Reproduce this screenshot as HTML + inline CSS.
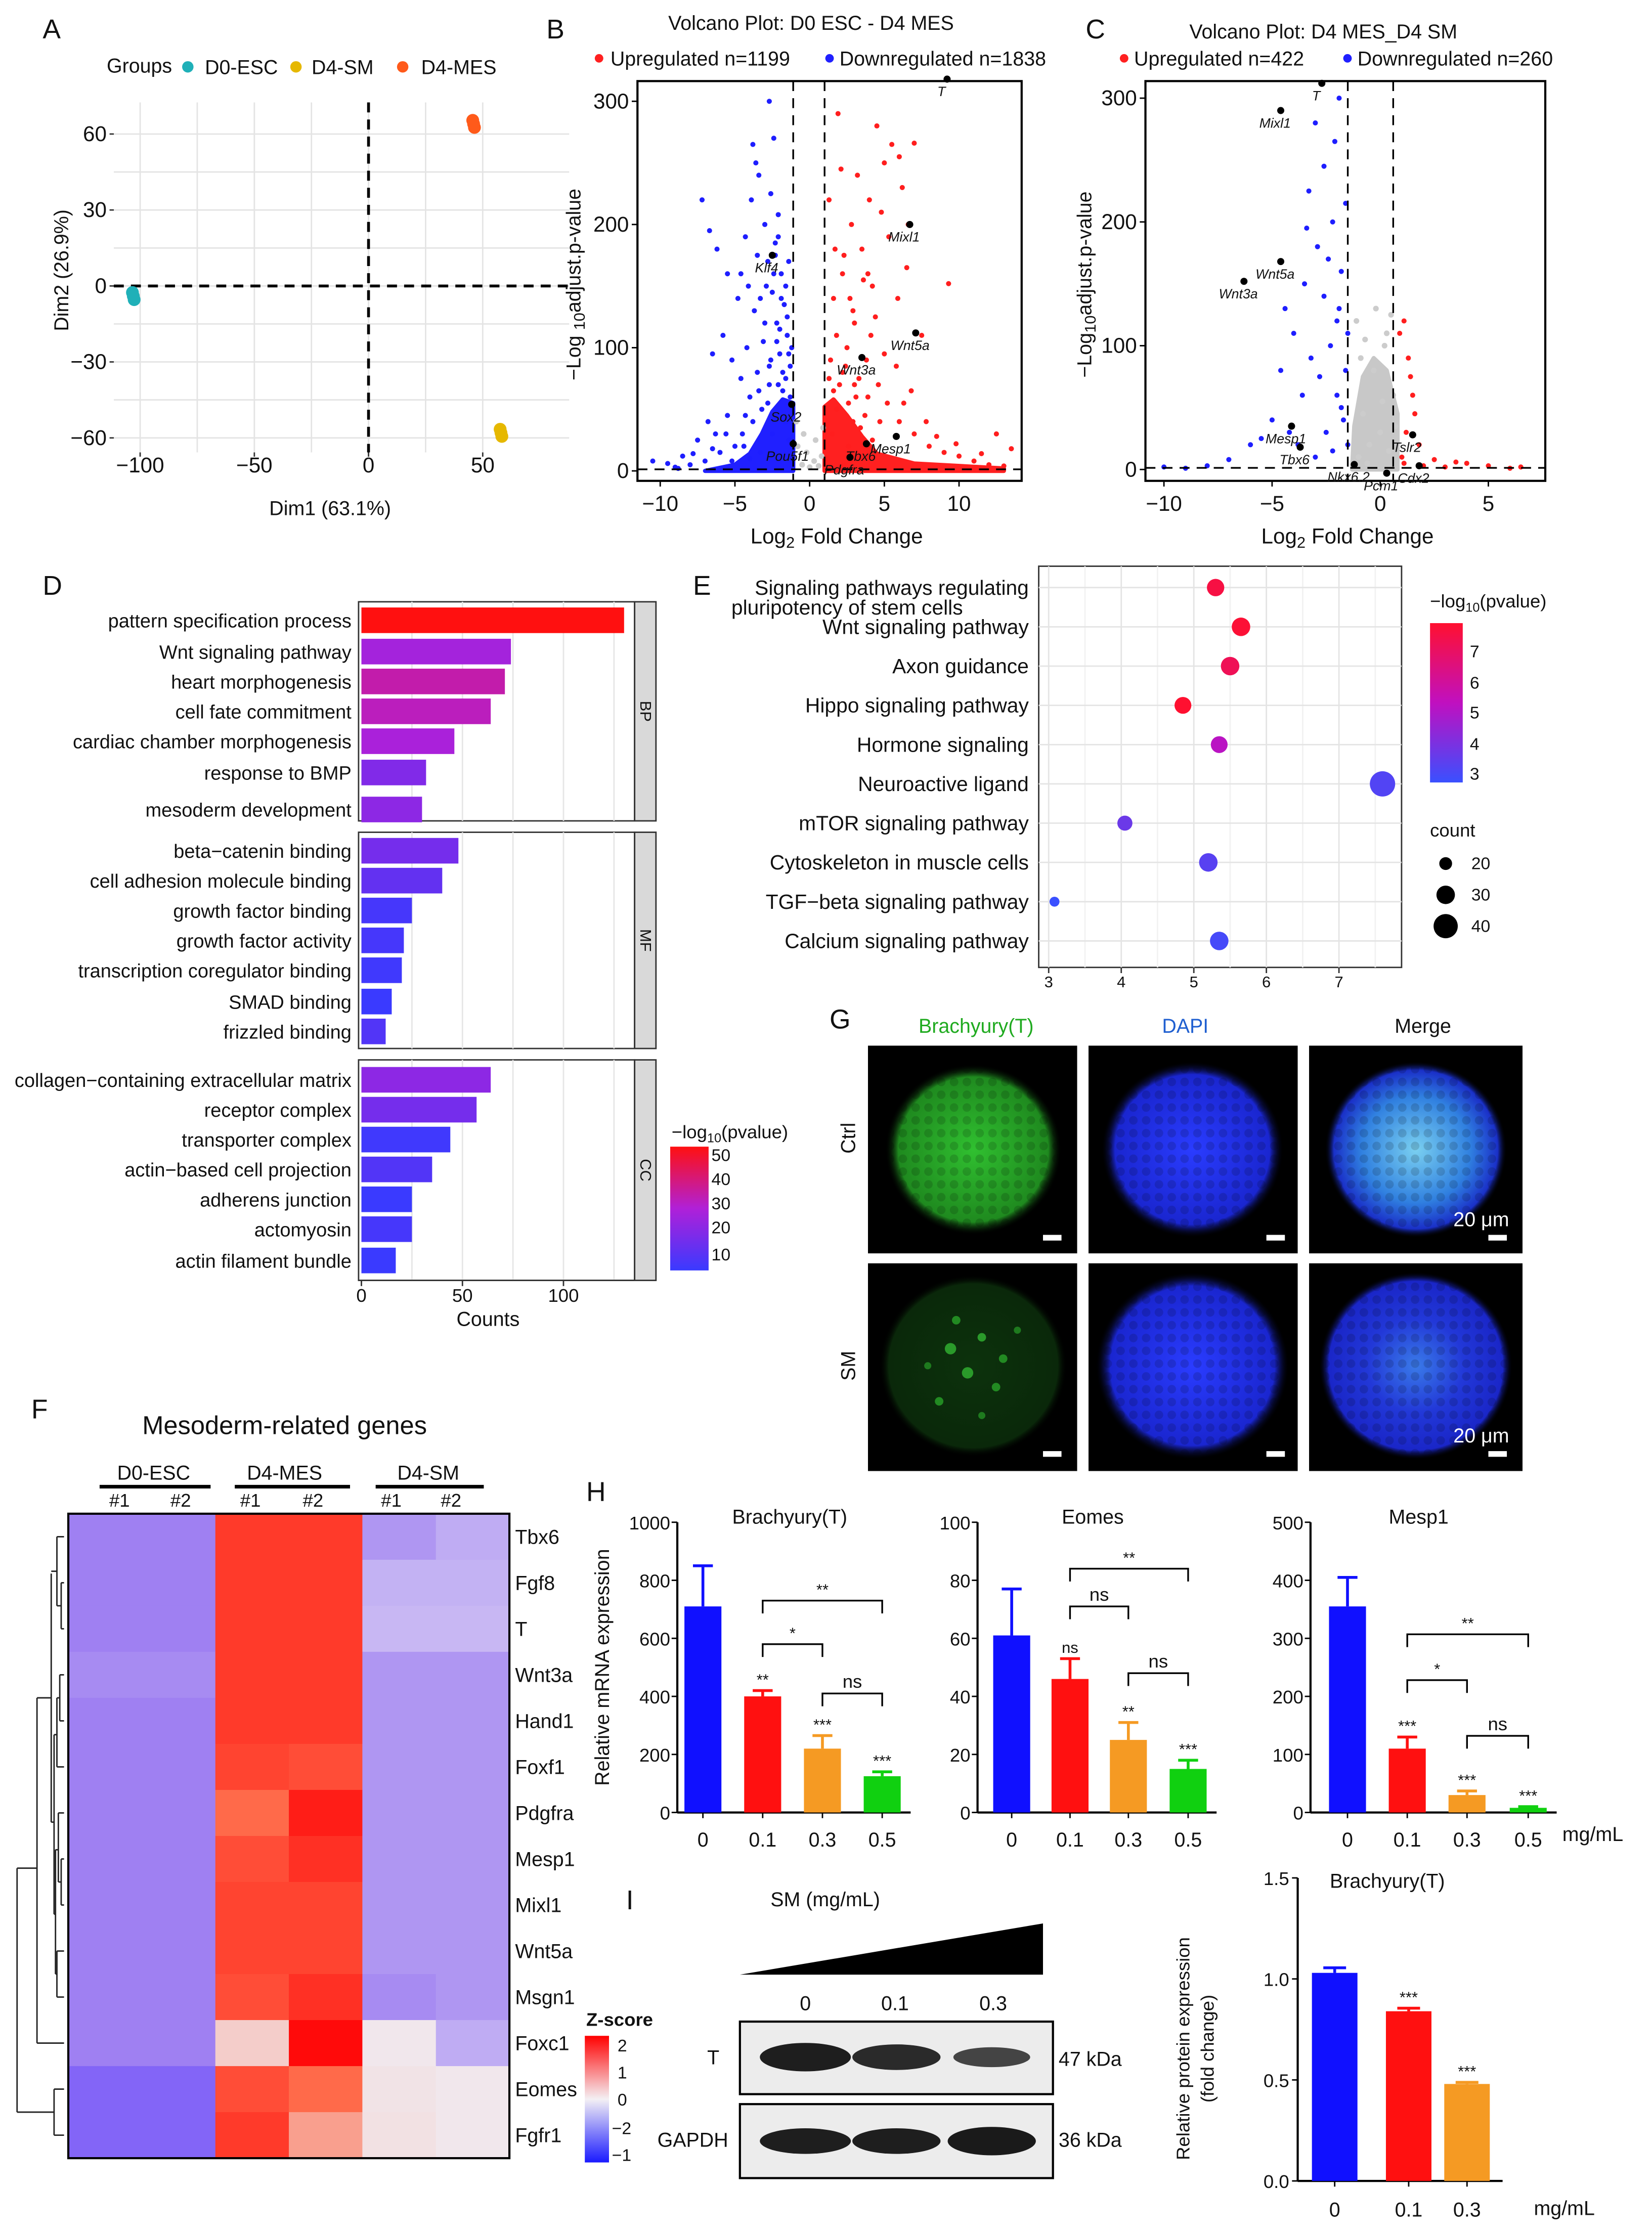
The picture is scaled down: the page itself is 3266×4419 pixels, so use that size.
<!DOCTYPE html>
<html><head><meta charset="utf-8"><title>Figure</title>
<style>
html,body{margin:0;padding:0;background:#fff;}
svg{display:block;font-family:"Liberation Sans",Arial,sans-serif;}
text{fill:#111;}
</style></head>
<body>
<svg id="fig" xmlns="http://www.w3.org/2000/svg" width="3266" height="4419" viewBox="0 0 1161 1571" preserveAspectRatio="none">
<defs>
<linearGradient id="gD" x1="0" y1="1" x2="0" y2="0"><stop offset="0" stop-color="#3a3aff"/><stop offset="0.5" stop-color="#b020d8"/><stop offset="1" stop-color="#ff1010"/></linearGradient>
<linearGradient id="gE" x1="0" y1="1" x2="0" y2="0"><stop offset="0" stop-color="#3a50ff"/><stop offset="0.5" stop-color="#c010c0"/><stop offset="1" stop-color="#ff1030"/></linearGradient>
<linearGradient id="gF" x1="0" y1="1" x2="0" y2="0"><stop offset="0" stop-color="#1a1aff"/><stop offset="0.5" stop-color="#f4f0f4"/><stop offset="1" stop-color="#ff0000"/></linearGradient>
<radialGradient id="rg1"><stop offset="0" stop-color="#30c030"/><stop offset="0.85" stop-color="#1f8a1f"/><stop offset="1" stop-color="#000" stop-opacity="0"/></radialGradient>
<radialGradient id="rg2"><stop offset="0" stop-color="#2a3cff"/><stop offset="0.85" stop-color="#1a26d0"/><stop offset="1" stop-color="#000" stop-opacity="0"/></radialGradient>
<radialGradient id="rg3"><stop offset="0" stop-color="#7ad0f0"/><stop offset="0.6" stop-color="#3080e0"/><stop offset="0.9" stop-color="#1a30c8"/><stop offset="1" stop-color="#000" stop-opacity="0"/></radialGradient>
<radialGradient id="rg4"><stop offset="0" stop-color="#0c320c"/><stop offset="0.9" stop-color="#0a280a"/><stop offset="1" stop-color="#000" stop-opacity="0"/></radialGradient>
<radialGradient id="rg5"><stop offset="0" stop-color="#3a7ae8"/><stop offset="0.5" stop-color="#2238d8"/><stop offset="0.9" stop-color="#1a26c8"/><stop offset="1" stop-color="#000" stop-opacity="0"/></radialGradient>
<pattern id="cells" width="9" height="9" patternUnits="userSpaceOnUse"><circle cx="4.5" cy="4.5" r="3" fill="#000" fill-opacity="0.15"/></pattern>
</defs>

<g>
<text x="30" y="27" font-size="19">A</text>
<text x="75" y="51" font-size="14">Groups</text>
<circle cx="132" cy="47" r="4" fill="#1fb0b8"/>
<text x="144" y="52" font-size="14">D0-ESC</text>
<circle cx="208" cy="47" r="4" fill="#e6b800"/>
<text x="219" y="52" font-size="14">D4-SM</text>
<circle cx="283" cy="47" r="4" fill="#ff5a1a"/>
<text x="296" y="52" font-size="14">D4-MES</text>
<g id="gA"></g>
<text x="232" y="362" font-size="14" text-anchor="middle">Dim1 (63.1%)</text>
<text transform="translate(48,190) rotate(-90)" font-size="14" text-anchor="middle">Dim2 (26.9%)</text>
</g>

<g>
<text x="384" y="27" font-size="19">B</text>
<text x="570" y="21" font-size="14" text-anchor="middle">Volcano Plot: D0 ESC - D4 MES</text>
<circle cx="421" cy="41" r="3" fill="#ff2020"/>
<text x="429" y="46" font-size="14">Upregulated n=1199</text>
<circle cx="583" cy="41" r="3" fill="#2020ff"/>
<text x="590" y="46" font-size="14">Downregulated n=1838</text>
<g id="gB"></g>
<text x="588" y="382" font-size="15" text-anchor="middle">Log<tspan font-size="11" dy="3">2</tspan><tspan dy="-3"> Fold Change</tspan></text>
<text transform="translate(408,200) rotate(-90)" font-size="14" text-anchor="middle">−Log <tspan font-size="11" dy="3">10</tspan><tspan dy="-3">adjust.p-value</tspan></text>
</g>

<g>
<text x="763" y="27" font-size="19">C</text>
<text x="930" y="27" font-size="14" text-anchor="middle">Volcano Plot: D4 MES_D4 SM</text>
<circle cx="790" cy="41" r="3" fill="#ff2020"/>
<text x="797" y="46" font-size="14">Upregulated n=422</text>
<circle cx="947" cy="41" r="3" fill="#2020ff"/>
<text x="954" y="46" font-size="14">Downregulated n=260</text>
<g id="gC"></g>
<text x="947" y="382" font-size="15" text-anchor="middle">Log<tspan font-size="11" dy="3">2</tspan><tspan dy="-3"> Fold Change</tspan></text>
<text transform="translate(767,200) rotate(-90)" font-size="14" text-anchor="middle">−Log<tspan font-size="11" dy="3">10</tspan><tspan dy="-3">adjust.p-value</tspan></text>
</g>

<g>
<text x="30" y="418" font-size="19">D</text>
<g id="gD2"></g>
<text x="343" y="932" font-size="14" text-anchor="middle">Counts</text>
<text x="472" y="800" font-size="13">−log<tspan font-size="9" dy="3">10</tspan><tspan dy="-3">(pvalue)</tspan></text>
<rect x="471" y="806" width="27" height="87" fill="url(#gD)"/>
<text x="500" y="816" font-size="12">50</text>
<text x="500" y="833" font-size="12">40</text>
<text x="500" y="850" font-size="12">30</text>
<text x="500" y="867" font-size="12">20</text>
<text x="500" y="886" font-size="12">10</text>
</g>

<g>
<text x="487" y="418" font-size="19">E</text>
<g id="gE2"></g>
<text x="1005" y="427" font-size="13">−log<tspan font-size="9" dy="3">10</tspan><tspan dy="-3">(pvalue)</tspan></text>
<rect x="1005" y="438" width="23" height="112" fill="url(#gE)"/>
<text x="1033" y="462" font-size="12">7</text>
<text x="1033" y="484" font-size="12">6</text>
<text x="1033" y="505" font-size="12">5</text>
<text x="1033" y="527" font-size="12">4</text>
<text x="1033" y="548" font-size="12">3</text>
<text x="1005" y="588" font-size="13">count</text>
<circle cx="1016" cy="607" r="4.5" fill="#000"/>
<circle cx="1016" cy="629" r="6.5" fill="#000"/>
<circle cx="1016" cy="651" r="8.5" fill="#000"/>
<text x="1034" y="611" font-size="12">20</text>
<text x="1034" y="633" font-size="12">30</text>
<text x="1034" y="655" font-size="12">40</text>
</g>

<g>
<text x="583" y="723" font-size="19">G</text>
<text x="686" y="726" font-size="14" style="fill:#1faa1f" text-anchor="middle">Brachyury(T)</text>
<text x="833" y="726" font-size="14" style="fill:#1f5fd0" text-anchor="middle">DAPI</text>
<text x="1000" y="726" font-size="14" text-anchor="middle">Merge</text>
<text transform="translate(601,800) rotate(-90)" font-size="14" text-anchor="middle">Ctrl</text>
<text transform="translate(601,960) rotate(-90)" font-size="14" text-anchor="middle">SM</text>
<rect x="610" y="735" width="147" height="146" fill="#000"/>
<rect x="765" y="735" width="147" height="146" fill="#000"/>
<rect x="920" y="735" width="150" height="146" fill="#000"/>
<rect x="610" y="888" width="147" height="146" fill="#000"/>
<rect x="765" y="888" width="147" height="146" fill="#000"/>
<rect x="920" y="888" width="150" height="146" fill="#000"/>
<ellipse cx="684" cy="808" rx="62" ry="60" fill="url(#rg1)"/><ellipse cx="684" cy="808" rx="58" ry="56" fill="url(#cells)"/>
<ellipse cx="838" cy="808" rx="64" ry="62" fill="url(#rg2)"/><ellipse cx="838" cy="808" rx="60" ry="58" fill="url(#cells)"/>
<ellipse cx="995" cy="808" rx="64" ry="62" fill="url(#rg3)"/><ellipse cx="995" cy="808" rx="60" ry="58" fill="url(#cells)"/>
<ellipse cx="684" cy="960" rx="66" ry="64" fill="url(#rg4)"/>
<circle cx="668" cy="948" r="4" fill="#2a9a2a"/><circle cx="690" cy="940" r="3" fill="#2a9a2a"/><circle cx="680" cy="965" r="4" fill="#2a9a2a"/><circle cx="700" cy="975" r="3" fill="#228a22"/><circle cx="660" cy="985" r="3" fill="#228a22"/><circle cx="705" cy="955" r="3" fill="#228a22"/><circle cx="672" cy="928" r="3" fill="#228a22"/><circle cx="652" cy="960" r="2.5" fill="#1e7a1e"/><circle cx="715" cy="935" r="2.5" fill="#1e7a1e"/><circle cx="690" cy="995" r="2.5" fill="#1e7a1e"/>
<ellipse cx="838" cy="960" rx="68" ry="66" fill="url(#rg2)"/><ellipse cx="838" cy="960" rx="64" ry="62" fill="url(#cells)"/>
<ellipse cx="995" cy="960" rx="68" ry="66" fill="url(#rg5)"/><ellipse cx="995" cy="960" rx="64" ry="62" fill="url(#cells)"/>
<rect x="733" y="868" width="13" height="4" fill="#fff"/><rect x="890" y="868" width="13" height="4" fill="#fff"/><rect x="1046" y="868" width="13" height="4" fill="#fff"/>
<rect x="733" y="1020" width="13" height="4" fill="#fff"/><rect x="890" y="1020" width="13" height="4" fill="#fff"/><rect x="1046" y="1020" width="13" height="4" fill="#fff"/>
<text x="1041" y="862" font-size="14" style="fill:#fff" text-anchor="middle">20 μm</text>
<text x="1041" y="1014" font-size="14" style="fill:#fff" text-anchor="middle">20 μm</text>
</g>

<g>
<text x="22" y="997" font-size="19">F</text>
<text x="200" y="1008" font-size="18" text-anchor="middle">Mesoderm-related genes</text>
<text x="108" y="1040" font-size="14" text-anchor="middle">D0-ESC</text>
<line x1="70" y1="1045" x2="148" y2="1045" stroke="#000" stroke-width="2.5"/>
<text x="200" y="1040" font-size="14" text-anchor="middle">D4-MES</text>
<line x1="165" y1="1045" x2="246" y2="1045" stroke="#000" stroke-width="2.5"/>
<text x="301" y="1040" font-size="14" text-anchor="middle">D4-SM</text>
<line x1="264" y1="1045" x2="340" y2="1045" stroke="#000" stroke-width="2.5"/>
<g id="gF2"></g>
<text x="412" y="1424" font-size="13" font-weight="bold">Z-score</text>
<rect x="411" y="1431" width="17" height="89" fill="url(#gF)"/>
<text x="434" y="1442" font-size="12">2</text>
<text x="434" y="1461" font-size="12">1</text>
<text x="434" y="1480" font-size="12">0</text>
<text x="430" y="1500" font-size="12">−2</text>
<text x="430" y="1519" font-size="12">−1</text>
</g>

<g>
<text x="412" y="1055" font-size="19">H</text>
<text transform="translate(428,1172) rotate(-90)" font-size="14" text-anchor="middle">Relative mRNA expression</text>
<g id="gH"></g>
<text x="1098" y="1294" font-size="14">mg/mL</text>
</g>

<g>
<text x="440" y="1342" font-size="19">I</text>
<text x="580" y="1340" font-size="14" text-anchor="middle">SM (mg/mL)</text>
<polygon points="520,1388 733,1388 733,1352" fill="#000"/>
<text x="566" y="1413" font-size="14" text-anchor="middle">0</text>
<text x="629" y="1413" font-size="14" text-anchor="middle">0.1</text>
<text x="698" y="1413" font-size="14" text-anchor="middle">0.3</text>
<rect x="520" y="1421" width="220" height="51" fill="#ececec" stroke="#000" stroke-width="1.5"/>
<rect x="520" y="1479" width="220" height="52" fill="#ececec" stroke="#000" stroke-width="1.5"/>
<ellipse cx="566" cy="1446" rx="32" ry="10" fill="#1e1e1e"/><ellipse cx="630" cy="1446" rx="31" ry="9" fill="#2a2a2a"/><ellipse cx="697" cy="1446" rx="27" ry="7" fill="#444"/>
<ellipse cx="566" cy="1505" rx="32" ry="9" fill="#1e1e1e"/><ellipse cx="630" cy="1505" rx="31" ry="9" fill="#1e1e1e"/><ellipse cx="697" cy="1505" rx="31" ry="10" fill="#1a1a1a"/>
<text x="497" y="1451" font-size="14">T</text>
<text x="462" y="1509" font-size="14">GAPDH</text>
<text x="744" y="1452" font-size="14">47 kDa</text>
<text x="744" y="1509" font-size="14">36 kDa</text>
<text x="975" y="1327" font-size="14" text-anchor="middle">Brachyury(T)</text>
<text transform="translate(836,1440) rotate(-90)" font-size="13" text-anchor="middle">Relative protein expression</text>
<text transform="translate(853,1440) rotate(-90)" font-size="13" text-anchor="middle">(fold change)</text>
<g id="gI"></g>
<text x="1078" y="1557" font-size="14">mg/mL</text>
</g>
</svg>

<script>
var pcaGroups = ["D0-ESC","D4-SM","D4-MES"];
var pcaDim1 = [-103, 58, 46];
var pcaDim2 = [-4, -58, 64];
var pcaColors = ["#1fb0b8","#e6b800","#ff5a1a"];
var pcaXTicks = [-100,-50,0,50];
var pcaYTicks = [60,30,0,-30,-60];

var volBDown = [[-1.2,10],[-1.4,25],[-1.6,40],[-1.3,60],[-1.8,80],[-2,95],[-1.5,110],[-2.2,120],[-1.7,135],[-2.5,145],[-1.9,160],[-2.8,170],[-2.3,185],[-3,200],[-1.6,150],[-2.6,225],[-3.4,240],[-2.1,208],[-3.8,265],[-2.4,270],[-2.7,300],[-4.5,30],[-5,20],[-5.5,45],[-6,15],[-7,8],[-8,5],[-9,3],[-10.5,8],[-4,60],[-3.5,80],[-4.2,100],[-3,120],[-4.8,140],[-5.5,160],[-6.2,180],[-6.7,195],[-3.2,50],[-2.7,70],[-4.6,75],[-5.2,90],[-3.7,130],[-2.9,150],[-6.5,95],[-5.8,110],[-7.5,25],[-8.5,12],[-6.8,40],[-3.3,15],[-2.5,30],[-4,10],[-1.4,170],[-1.2,100],[-2,115],[-4.3,190],[-3.9,220],[-1.5,125],[-7.2,220],[-3.6,250],[-2.2,105],[-1.8,65],[-2.6,90],[-3.1,105],[-1.9,140],[-2.4,160],[-3.5,175],[-4.1,150],[-1.3,85],[-2.8,55],[-3.8,40],[-4.4,20],[-5.2,8],[-6.3,30],[-9.5,6],[-8.8,2],[-7.8,14],[-2.3,175],[-2.1,190],[-3.3,140],[-4.6,160],[-1.6,75],[-2.1,70],[-1.4,95],[-2.7,85],[-3.4,65],[-4.3,45],[-5.6,30],[-6.5,18]];
var volBUp = [[1.2,10],[1.5,30],[1.8,50],[2,70],[1.4,90],[2.5,100],[3,120],[1.6,140],[2.2,160],[3.5,180],[2.8,200],[4,220],[3.2,240],[1.9,290],[4.5,280],[5.5,265],[6,255],[5,250],[6.2,230],[4.8,210],[5.3,190],[6.5,165],[4.2,150],[3.8,90],[4.6,70],[5.2,55],[6,40],[7,30],[8,20],[9,15],[10,12],[11,8],[12,5],[13,4],[2.6,20],[3.4,35],[4.2,25],[2.3,5],[3.1,60],[3.7,45],[5.8,85],[6.8,65],[7.5,110],[9.3,152],[6.6,200],[5.9,140],[2.9,130],[1.7,180],[1.3,220],[2.1,245],[3.6,155],[7,266],[2.4,85],[3.3,75],[1.8,110],[2.7,140],[4.4,125],[5,95],[6.3,55],[7.8,40],[8.5,28],[9.8,22],[11.5,14],[12.5,30],[13.5,18],[3.9,160],[2.3,175],[4.1,110],[1.6,65],[2.9,40],[2.2,80],[3.0,70],[3.9,60],[4.7,40],[1.3,75],[2.6,55]];
var volBNs = [[-0.5,5],[0.3,8],[-0.2,15],[0.6,4],[-0.8,20],[0.8,12],[0,3],[-0.4,30],[0.4,25],[-0.9,40],[0.9,35]];
var volBGenes = ["Klf4","Mixl1","Wnt5a","Wnt3a","Sox2","Pou5f1","Tbx6","Mesp1","Pdgfra","T"];
var volBGx = [-2.5,6.7,7.1,3.5,-1.2,-1.1,3.8,5.8,2.7,9.2];
var volBGy = [175,200,112,92,54,22,22,28,11,318];
var volBDownHull = [[-7,0],[-5,5],[-4,14],[-3.2,30],[-2.5,48],[-1.8,58],[-1.1,55],[-1.1,0]];
var volBUpHull = [[1,0],[1,52],[1.6,58],[2.5,45],[3.5,28],[4.5,14],[7,6],[13,2],[13,0]];

var volCDown = [[-1.5,20],[-1.7,40],[-2,60],[-1.6,80],[-2.3,100],[-2,120],[-2.6,140],[-1.8,160],[-2.9,180],[-2.2,200],[-3.3,225],[-2.6,245],[-3,280],[-1.9,300],[-3.6,60],[-3.2,90],[-4,110],[-3.5,150],[-4.4,130],[-4.6,80],[-5,40],[-5.5,25],[-6,20],[-7,8],[-8,3],[-9,1],[-10,2],[-4.2,30],[-3.8,20],[-3,10],[-2.5,30],[-2.8,75],[-1.6,215],[-2.1,265],[-3.4,195],[-1.9,130],[-2.4,170],[-1.5,110],[-1.8,50],[-2.2,15]];
var volCUp = [[1,10],[1.2,30],[1.5,60],[1.3,90],[0.9,110],[1.1,5],[2,3],[3,2],[4,5],[5,3],[6,1],[6.5,2],[1.8,20],[2.5,8],[1.6,45],[1.1,120],[3.5,6],[1.4,75]];
var volCNs = [[-1,10],[-0.5,20],[0,30],[0.4,15],[-0.8,45],[0.6,60],[-0.3,80],[0.2,100],[-1.1,120],[0.5,125],[-0.6,5],[0.1,55],[-0.2,130],[0.7,35],[-0.9,90],[0.3,110],[-0.7,105]];
var volCGenes = ["Mixl1","T","Wnt5a","Wnt3a","Mesp1","Tbx6","Nkx6.2","Tslr2","Cdx2","Pcm1"];
var volCGx = [-4.6,-2.7,-4.6,-6.3,-4.1,-3.7,-1.2,1.5,1.8,0.3];
var volCGy = [290,312,168,152,35,18,4,28,3,-3];
var volCNsHull = [[-1.3,0],[-1.2,35],[-0.8,75],[-0.3,90],[0.3,80],[0.8,45],[0.8,0]];

var goTerms = ["pattern specification process","Wnt signaling pathway","heart morphogenesis","cell fate commitment","cardiac chamber morphogenesis","response to BMP","mesoderm development","beta\u2212catenin binding","cell adhesion molecule binding","growth factor binding","growth factor activity","transcription coregulator binding","SMAD binding","frizzled binding","collagen\u2212containing extracellular matrix","receptor complex","transporter complex","actin\u2212based cell projection","adherens junction","actomyosin","actin filament bundle"];
var goCounts = [130,74,71,64,46,32,30,48,40,25,21,20,15,12,64,57,44,35,25,25,17];
var goPval = [50,26,33,31,27,20,22,18,15,10,10,9,8,12,22,18,9,12,8,10,8];
var goCategory = ["BP","BP","BP","BP","BP","BP","BP","MF","MF","MF","MF","MF","MF","MF","CC","CC","CC","CC","CC","CC","CC"];
var goXTicks = [0,50,100];

var keggTerms = ["Signaling pathways regulating","Wnt signaling pathway","Axon guidance","Hippo signaling pathway","Hormone signaling","Neuroactive ligand","mTOR signaling pathway","Cytoskeleton in muscle cells","TGF\u2212beta signaling pathway","Calcium signaling pathway"];
var keggRich = [5.3,5.65,5.5,4.85,5.35,7.6,4.05,5.2,3.08,5.35];
var keggCount = [28,30,30,27,27,42,24,30,15,30];
var keggP = [7.2,7.4,6.9,7.5,5.1,3.4,3.8,3.5,3.0,3.2];
var keggXTicks = [3,4,5,6,7];

var hmGenes = ["Tbx6","Fgf8","T","Wnt3a","Hand1","Foxf1","Pdgfra","Mesp1","Mixl1","Wnt5a","Msgn1","Foxc1","Eomes","Fgfr1"];
var hmZ = [
[-1,-1,1.5,1.5,-0.8,-0.6],
[-1,-1,1.5,1.5,-0.55,-0.55],
[-1,-1,1.5,1.5,-0.5,-0.5],
[-0.9,-0.9,1.5,1.5,-0.8,-0.8],
[-1,-1,1.5,1.5,-0.8,-0.8],
[-1,-1,1.4,1.3,-0.8,-0.8],
[-1,-1,1.0,1.8,-0.8,-0.8],
[-1,-1,1.3,1.6,-0.8,-0.8],
[-1,-1,1.4,1.4,-0.8,-0.8],
[-1,-1,1.4,1.4,-0.8,-0.8],
[-1,-1,1.3,1.6,-0.9,-0.8],
[-1,-1,0.25,2.1,0.05,-0.6],
[-1.4,-1.4,1.3,1.0,0.08,0.05],
[-1.4,-1.4,1.5,0.6,0.1,0.05]];
var hmCols = ["#1","#2","#1","#2","#1","#2"];

var qDoses = ["0","0.1","0.3","0.5"];
var qTitles = ["Brachyury(T)","Eomes","Mesp1"];
var qBrachyury = [710,400,220,125];
var qBrachyuryErr = [140,20,45,15];
var qEomes = [61,46,25,15];
var qEomesErr = [16,7,6,3];
var qMesp1 = [355,110,30,8];
var qMesp1Err = [50,20,7,2];
var qBrachyuryTicks = [0,200,400,600,800,1000];
var qEomesTicks = [0,20,40,60,80,100];
var qMesp1Ticks = [0,100,200,300,400,500];
var qBrachyuryStars = ["","**","***","***"];
var qEomesStars = ["","ns","**","***"];
var qMesp1Stars = ["","***","***","***"];
var qBrachyuryBrackets = [[1,3,"**",730],[1,2,"*",580],[2,3,"ns",410]];
var qEomesBrackets = [[1,3,"**",84],[1,2,"ns",71],[2,3,"ns",48]];
var qMesp1Brackets = [[1,3,"**",307],[1,2,"*",228],[2,3,"ns",132]];
var barColors = ["#1010ff","#ff1010","#f59a23","#10d010"];

var pDoses = ["0","0.1","0.3"];
var pValues = [1.03,0.84,0.48];
var pErr = [0.025,0.015,0.008];
var pStars = ["","***","***"];
var pTicks = ["0.0","0.5","1.0","1.5"];

var NS = "http://www.w3.org/2000/svg";
function mk(tag, attrs, parent){
  var e = document.createElementNS(NS, tag);
  for (var k in attrs) e.setAttribute(k, attrs[k]);
  parent.appendChild(e);
  return e;
}
function txt(s, attrs, parent){ var t = mk("text", attrs, parent); t.textContent = s; return t; }
function lerpC(a,b,t){
  var pa=[parseInt(a.substr(1,2),16),parseInt(a.substr(3,2),16),parseInt(a.substr(5,2),16)];
  var pb=[parseInt(b.substr(1,2),16),parseInt(b.substr(3,2),16),parseInt(b.substr(5,2),16)];
  return "rgb("+pa.map(function(v,i){return Math.round(v+(pb[i]-v)*t);}).join(",")+")";
}
function scale3(v, lo, mid, hi, c0, c1, c2){
  if (v<=mid){ var t=Math.max(0,(v-lo)/(mid-lo)); return lerpC(c0,c1,t); }
  var t2=Math.min(1,(v-mid)/(hi-mid)); return lerpC(c1,c2,t2);
}

(function(){
  var g = document.getElementById("gA");
  function xA(v){ return 259 + v*1.605; }
  function yA(v){ return 201 - v*1.78; }
  [-100,-75,-50,-25,0,25,50].forEach(function(v){
    var l = mk("line",{x1:xA(v),x2:xA(v),y1:72,y2:318,stroke:"#e4e4e4","stroke-width":1},g);
    
    
  });
  [60,45,30,15,0,-15,-30,-45,-60].forEach(function(v){
    var l = mk("line",{x1:80,x2:400,y1:yA(v),y2:yA(v),stroke:"#e4e4e4","stroke-width":1},g);
    
    
  });
  pcaXTicks.forEach(function(v){
    var t = txt(v<0?"\u2212"+(-v):String(v),{x:xA(v),y:332,"font-size":15,"text-anchor":"middle"},g);
    
    
    mk("line",{x1:xA(v),x2:xA(v),y1:318,y2:321,stroke:"#333"},g);
  });
  pcaYTicks.forEach(function(v){
    var t = txt(v<0?"\u2212"+(-v):String(v),{x:75,y:yA(v)+5,"font-size":15,"text-anchor":"end"},g);
    
    
    mk("line",{x1:77,x2:80,y1:yA(v),y2:yA(v),stroke:"#333"},g);
  });
  var d1 = mk("line",{x1:xA(0),x2:xA(0),y1:72,y2:318,stroke:"#000","stroke-width":2,"stroke-dasharray":"7,5"},g);
  
  
  var d2 = mk("line",{x1:80,x2:400,y1:yA(0),y2:yA(0),stroke:"#000","stroke-width":2,"stroke-dasharray":"7,5"},g);
  
  
  pcaDim1.forEach(function(v,i){
    [-1,0,1].forEach(function(o){
      var c = mk("circle",{cx:xA(v)+o*0.6,cy:yA(pcaDim2[i])+o*2.5,r:4.5,fill:pcaColors[i]},g);
      
      
    });
  });
})();

function volcano(g, x0, x1, y0, y1, xz, xs, yz, ys, xticks, yticks, dashes, down, up, ns, hulls, genes, gx, gy, tag){
  function X(v){ return xz + v*xs; }
  function Y(v){ return yz - v*ys; }
  var frame = mk("rect",{x:x0,y:y0,width:x1-x0,height:y1-y0,fill:"#fff",stroke:"#000","stroke-width":1.5},g);
  
  
  var cl = "clip"+tag;
  var cp = mk("clipPath",{id:cl},g); mk("rect",{x:x0,y:y0,width:x1-x0,height:y1-y0},cp);
  var p = mk("g",{"clip-path":"url(#"+cl+")"},g);
  hulls.forEach(function(h){
    var poly = mk("polygon",{points:h[0].map(function(q){return X(q[0])+","+Y(q[1]);}).join(" "),fill:h[1],"stroke":h[1],"stroke-width":3,"stroke-linejoin":"round"},p);
    
    
  });
  ns.forEach(function(q){
    var c = mk("circle",{cx:X(q[0]),cy:Y(q[1]),r:2,fill:"#cccccc"},p);
    
    
  });
  down.forEach(function(q){
    var c = mk("circle",{cx:X(q[0]),cy:Y(q[1]),r:1.8,fill:"#1e1eff"},p);
    
    
  });
  up.forEach(function(q){
    var c = mk("circle",{cx:X(q[0]),cy:Y(q[1]),r:1.8,fill:"#ff1e1e"},p);
    
    
  });
  dashes.forEach(function(v){
    var l = mk("line",{x1:X(v),x2:X(v),y1:y0,y2:y1,stroke:"#000","stroke-width":1.2,"stroke-dasharray":"7,5"},g);
    
    
  });
  var h = mk("line",{x1:x0,x2:x1,y1:Y(1.3),y2:Y(1.3),stroke:"#000","stroke-width":1.2,"stroke-dasharray":"7,5"},g);
  
  
  genes.forEach(function(n,i){
    var c = mk("circle",{cx:X(gx[i]),cy:Y(gy[i]),r:2.5,fill:"#000"},g);
    
    
    var t = txt(n,{x:X(gx[i])-4,y:Y(gy[i])+12,"font-size":9.5,"font-style":"italic","text-anchor":"middle"},g);
    
    
  });
  xticks.forEach(function(v){
    mk("line",{x1:X(v),x2:X(v),y1:y1,y2:y1+4,stroke:"#000"},g);
    var t = txt(v<0?"\u2212"+(-v):String(v),{x:X(v),y:y1+21,"font-size":15,"text-anchor":"middle"},g);
    
    
  });
  yticks.forEach(function(v){
    mk("line",{x1:x0-4,x2:x0,y1:Y(v),y2:Y(v),stroke:"#000"},g);
    var t = txt(String(v),{x:x0-6,y:Y(v)+5,"font-size":15,"text-anchor":"end"},g);
    
    
  });
}
volcano(document.getElementById("gB"),448,718,57,338,569,10.5,331,0.866,[-10,-5,0,5,10],[0,100,200,300],[-1.1,1.0],volBDown,volBUp,volBNs,[[volBDownHull,"#2020ff"],[volBUpHull,"#ff2020"]],volBGenes,volBGx,volBGy,"b");
volcano(document.getElementById("gC"),805,1086,57,338,970,15.2,330,0.87,[-10,-5,0,5],[0,100,200,300],[-1.5,0.6],volCDown,volCUp,volCNs,[[volCNsHull,"#c8c8c8"]],volCGenes,volCGx,volCGy,"c");

(function(){
  var g = document.getElementById("gD2");
  function X(v){ return 254 + v*1.42; }
  var rowsY = [436,458,479,500,521,543,569,598,619,640,661,682,704,725,759,780,801,822,843,864,886];
  var facets = [["BP",423,577],["MF",585,737],["CC",745,900]];
  facets.forEach(function(f){
    var r = mk("rect",{x:252,y:f[1],width:194,height:f[2]-f[1],fill:"#fff",stroke:"#333","stroke-width":1},g);
    
    
    [25,50,75,100,125].forEach(function(v){ mk("line",{x1:X(v),x2:X(v),y1:f[1],y2:f[2],stroke:"#e6e6e6"},g); });
    var s = mk("rect",{x:446,y:f[1],width:15,height:f[2]-f[1],fill:"#d9d9d9",stroke:"#333","stroke-width":1},g);
    
    
    var t = txt(f[0],{transform:"translate(450,"+((f[1]+f[2])/2)+") rotate(90)","font-size":11,"text-anchor":"middle"},g);
    
    
  });
  goTerms.forEach(function(n,i){
    var y = rowsY[i];
    var col = scale3(goPval[i],8,28,50,"#3a3aff","#b020d8","#ff1010");
    var b = mk("rect",{x:X(0),y:y-9,width:X(goCounts[i])-X(0),height:18,fill:col},g);
    
    
    var t = txt(n,{x:247,y:y+5,"font-size":13.5,"text-anchor":"end"},g);
    
    
  });
  mk("line",{x1:252,x2:446,y1:900,y2:900,stroke:"#333"},g);
  goXTicks.forEach(function(v){
    mk("line",{x1:X(v),x2:X(v),y1:900,y2:904,stroke:"#333"},g);
    var t = txt(String(v),{x:X(v),y:915,"font-size":13,"text-anchor":"middle"},g);
    
    
  });
})();

(function(){
  var g = document.getElementById("gE2");
  function X(v){ return 737 + (v-3)*51; }
  function Y(i){ return 413 + i*27.6; }
  var fr = mk("rect",{x:730,y:398,width:255,height:282,fill:"#fff",stroke:"#333","stroke-width":1},g);
  
  
  [3,3.5,4,4.5,5,5.5,6,6.5,7,7.5].forEach(function(v){ mk("line",{x1:X(v),x2:X(v),y1:398,y2:680,stroke:(v%1?"#f2f2f2":"#e4e4e4")},g); });
  keggTerms.forEach(function(n,i){ mk("line",{x1:730,x2:985,y1:Y(i),y2:Y(i),stroke:"#e4e4e4"},g); });
  keggTerms.forEach(function(n,i){
    var t = txt(n,{x:723,y:Y(i)+5,"font-size":14.5,"text-anchor":"end"},g);
    
    
    var c = mk("circle",{cx:X(keggRich[i]),cy:Y(i),r:0.5+0.2*keggCount[i],fill:scale3(keggP[i],3,5.2,7.5,"#3a50ff","#c010c0","#ff1030")},g);
    
    
  });
  var t2 = txt("pluripotency of stem cells",{x:514,y:432,"font-size":14.5},g);
  
  
  keggXTicks.forEach(function(v){
    mk("line",{x1:X(v),x2:X(v),y1:680,y2:684,stroke:"#333"},g);
    var t = txt(String(v),{x:X(v),y:694,"font-size":11,"text-anchor":"middle"},g);
    
    
  });
})();

(function(){
  var g = document.getElementById("gF2");
  var x0=48, y0=1064, cw=310/6, rh=453/14;
  var repX = [84,127,176,220,275,317];
  function zc(v){
    if (v<=-1) return lerpC("#5a3cff","#9f80f2",v+2>0?(v+2):0);
    if (v<=0) return lerpC("#9f80f2","#f0eef4",v+1);
    if (v<=1) return lerpC("#f0eef4","#ff6a4a",v);
    return lerpC("#ff6a4a","#ff0a0a",Math.min(1,v-1));
  }
  hmGenes.forEach(function(n,i){
    hmZ[i].forEach(function(z,j){
      var r = mk("rect",{x:x0+j*cw,y:y0+i*rh,width:cw+0.5,height:rh+0.5,fill:zc(z)},g);
      
      
    });
    var t = txt(n,{x:362,y:y0+i*rh+rh/2+5,"font-size":14},g);
    
    
  });
  mk("rect",{x:x0,y:y0,width:310,height:453,fill:"none",stroke:"#000","stroke-width":1.5},g);
  hmCols.forEach(function(c,j){
    var t = txt(c,{x:repX[j],y:1059,"font-size":13,"text-anchor":"middle"},g);
    
    
  });
  function ry(i){ return y0+i*rh+rh/2; }
  var segs = [
    [45,ry(0),40,ry(0)],[45,ry(1),43,ry(1)],[45,ry(2),43,ry(2)],[43,ry(1),43,ry(2)],[43,(ry(1)+ry(2))/2,40,(ry(1)+ry(2))/2],[40,ry(0),40,(ry(1)+ry(2))/2],
    [40,(ry(0)+ry(1.5))/2,36,(ry(0)+ry(1.5))/2],
    [45,ry(3),42,ry(3)],[45,ry(4),42,ry(4)],[42,ry(3),42,ry(4)],[42,ry(3.5),40,ry(3.5)],[45,ry(5),40,ry(5)],[40,ry(3.5),40,ry(5)],[40,ry(4.3),38,ry(4.3)],
    [45,ry(6),41,ry(6)],[45,ry(7),43,ry(7)],[45,ry(8),43,ry(8)],[43,ry(7),43,ry(8)],[43,ry(7.5),41,ry(7.5)],[41,ry(6),41,ry(7.5)],[41,ry(6.8),39,ry(6.8)],
    [45,ry(9),40,ry(9)],[45,ry(10),40,ry(10)],[40,ry(9),40,ry(10)],[40,ry(9.5),39,ry(9.5)],[39,ry(6.8),39,ry(9.5)],[39,ry(8.2),38,ry(8.2)],[38,ry(4.3),38,ry(8.2)],
    [38,ry(6.2),36,ry(6.2)],[36,ry(0.8),36,ry(6.2)],[36,ry(3.5),26,ry(3.5)],
    [45,ry(11),26,ry(11)],[26,ry(3.5),26,ry(11)],[26,ry(7.2),12,ry(7.2)],
    [45,ry(12),38,ry(12)],[45,ry(13),38,ry(13)],[38,ry(12),38,ry(13)],[38,ry(12.5),12,ry(12.5)],[12,ry(7.2),12,ry(12.5)]
  ];
  segs.forEach(function(s){
    var l = mk("line",{x1:s[0],y1:s[1],x2:s[2],y2:s[3],stroke:"#222","stroke-width":1},g);
    
    
  });
})();

(function(){
  var g = document.getElementById("gH");
  var charts = [
    {vals:qBrachyury,err:qBrachyuryErr,ticks:qBrachyuryTicks,stars:qBrachyuryStars,br:qBrachyuryBrackets,ax:476,xs:[494,536,578,620],max:1000,tx:555,name:"brachyury"},
    {vals:qEomes,err:qEomesErr,ticks:qEomesTicks,stars:qEomesStars,br:qEomesBrackets,ax:687,xs:[711,752,793,835],max:100,tx:768,name:"eomes"},
    {vals:qMesp1,err:qMesp1Err,ticks:qMesp1Ticks,stars:qMesp1Stars,br:qMesp1Brackets,ax:921,xs:[947,989,1031,1074],max:500,tx:997,name:"mesp1"}
  ];
  var yb=1274, yt=1070;
  charts.forEach(function(c,ci){
    function Y(v){ return yb - v/c.max*(yb-yt); }
    var tt = txt(qTitles[ci],{x:c.tx,y:1071,"font-size":14,"text-anchor":"middle"},g);
    
    
    mk("line",{x1:c.ax,x2:c.ax,y1:yt,y2:yb,stroke:"#000","stroke-width":1.5},g);
    mk("line",{x1:c.ax,x2:c.xs[3]+20,y1:yb,y2:yb,stroke:"#000","stroke-width":1.5},g);
    c.ticks.forEach(function(v){
      mk("line",{x1:c.ax-4,x2:c.ax,y1:Y(v),y2:Y(v),stroke:"#000"},g);
      var t = txt(String(v),{x:c.ax-5,y:Y(v)+5,"font-size":13,"text-anchor":"end"},g);
      
      
    });
    c.vals.forEach(function(v,i){
      var x = c.xs[i];
      mk("line",{x1:x,x2:x,y1:Y(v),y2:Y(v+c.err[i]),stroke:barColors[i],"stroke-width":2},g);
      mk("line",{x1:x-7,x2:x+7,y1:Y(v+c.err[i]),y2:Y(v+c.err[i]),stroke:barColors[i],"stroke-width":2},g);
      var b = mk("rect",{x:x-13,y:Y(v),width:26,height:yb-Y(v),fill:barColors[i]},g);
      
      
      mk("line",{x1:x,x2:x,y1:yb,y2:yb+4,stroke:"#000"},g);
      var t = txt(qDoses[i],{x:x,y:1298,"font-size":14,"text-anchor":"middle"},g);
      
      
      if (c.stars[i]){
        var s = txt(c.stars[i],{x:x,y:Y(v+c.err[i])-4,"font-size":11,"text-anchor":"middle"},g);
        
        
      }
    });
    c.br.forEach(function(b){
      var xa=c.xs[b[0]], xb=c.xs[b[1]], y=Y(b[3]);
      var p = mk("path",{d:"M"+xa+" "+(y+9)+"V"+y+"H"+xb+"V"+(y+9),fill:"none",stroke:"#000","stroke-width":1.2},g);
      
      
      var t = txt(b[2],{x:(xa+xb)/2,y:y-4,"font-size":b[2]=="ns"?13:11,"text-anchor":"middle"},g);
      
      
    });
  });
})();

(function(){
  var g = document.getElementById("gI");
  var ax=912, yb=1533, xs=[938,990,1031];
  function Y(v){ return yb - v*142; }
  mk("line",{x1:ax,x2:ax,y1:Y(1.5),y2:yb,stroke:"#000","stroke-width":1.5},g);
  mk("line",{x1:ax,x2:1056,y1:yb,y2:yb,stroke:"#000","stroke-width":1.5},g);
  pTicks.forEach(function(s){
    var v=parseFloat(s);
    mk("line",{x1:ax-4,x2:ax,y1:Y(v),y2:Y(v),stroke:"#000"},g);
    var t = txt(s,{x:ax-6,y:Y(v)+5,"font-size":13,"text-anchor":"end"},g);
    
    
  });
  pValues.forEach(function(v,i){
    var x=xs[i];
    mk("line",{x1:x,x2:x,y1:Y(v),y2:Y(v+pErr[i]),stroke:barColors[i],"stroke-width":2},g);
    mk("line",{x1:x-8,x2:x+8,y1:Y(v+pErr[i]),y2:Y(v+pErr[i]),stroke:barColors[i],"stroke-width":2},g);
    var b = mk("rect",{x:x-16,y:Y(v),width:32,height:yb-Y(v),fill:barColors[i]},g);
    
    
    mk("line",{x1:x,x2:x,y1:yb,y2:yb+4,stroke:"#000"},g);
    var t = txt(pDoses[i],{x:x,y:1558,"font-size":14,"text-anchor":"middle"},g);
    
    
    if (pStars[i]){
      var s = txt(pStars[i],{x:x,y:Y(v+pErr[i])-4,"font-size":11,"text-anchor":"middle"},g);
      
      
    }
  });
})();
</script>
</body></html>
